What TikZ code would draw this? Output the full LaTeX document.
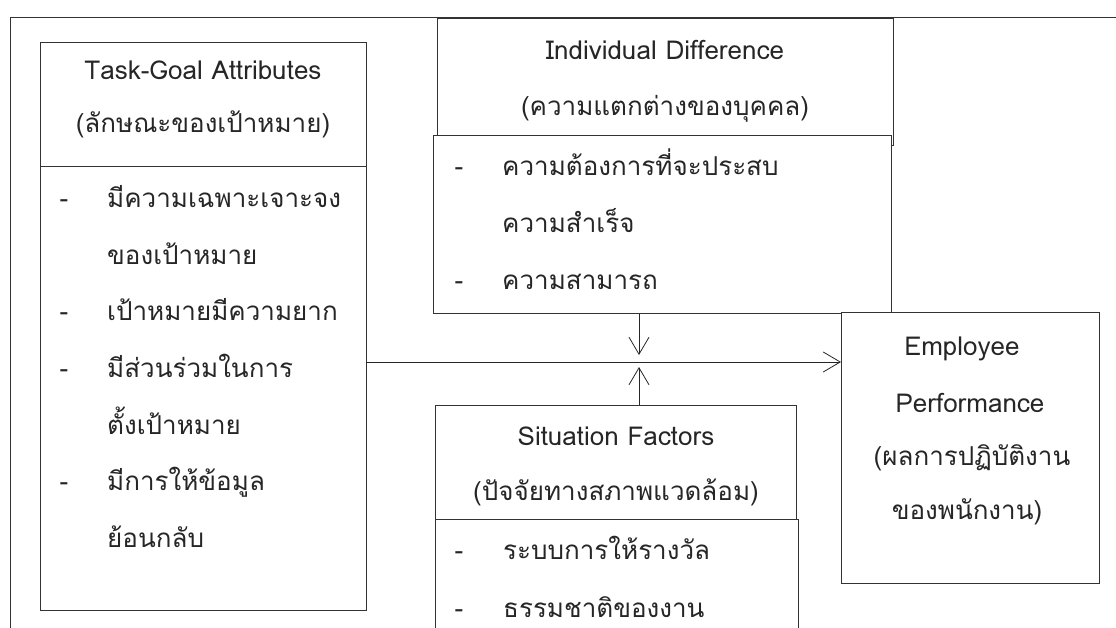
\documentclass[tikz,border=0pt]{standalone}
\usepackage{fontspec}
\setmainfont[Script=Thai]{Loma}
\usetikzlibrary{arrows.meta}
\begin{document}
\begin{tikzpicture}[x=1pt,y=-1pt,
  box/.style={draw=black!80, line width=0.8pt, fill=white, inner sep=0pt, anchor=north west},
  txt/.style={inner sep=0pt, font=\fontsize{26}{30}\selectfont, text=black!85},
  li/.style={txt, anchor=mid west},
  ctr/.style={txt, anchor=mid},
  arr/.style={draw=black!85, line width=0.8pt, -{Straight Barb[length=17pt,width=20pt,line width=0.8pt]}}]
\useasboundingbox (0,0) rectangle (1116,628);
\clip (0,0) rectangle (1116,628);
% outer frame
\coordinate (fa) at (1120,17);
\coordinate (fb) at (10,17);
\coordinate (fc) at (10,640);
\draw[draw=black!80, line width=0.8pt] (fa) -- (fb) -- (fc);
% Task-Goal box
\node[box, minimum width=326pt, minimum height=568pt] (task) at (40,42) {};
\coordinate (tdiv) at (40,166);
\draw[draw=black!80, line width=0.8pt] (tdiv) -- (tdiv -| task.east);
\node[ctr] (t1) at (203,77) {Task-Goal Attributes};
\node[ctr] (t2) at (203,130) {(ลักษณะของเป้าหมาย)};
\node[ctr] (td1) at (64,205) {-};
\node[li] (tl1) at (107,205) {มีความเฉพาะเจาะจง};
\node[li] (tl2) at (107,262) {ของเป้าหมาย};
\node[ctr] (td2) at (64,318) {-};
\node[li] (tl3) at (107,318) {เป้าหมายมีความยาก};
\node[ctr] (td3) at (64,375) {-};
\node[li] (tl4) at (107,375) {มีส่วนร่วมในการ};
\node[li] (tl5) at (107,432) {ตั้งเป้าหมาย};
\node[ctr] (td4) at (64,488) {-};
\node[li] (tl6) at (107,488) {มีการให้ข้อมูล};
\node[li] (tl7) at (107,545) {ย้อนกลับ};
% Individual Difference
\node[box, minimum width=456pt, minimum height=127pt] (idh) at (437,18) {};
\node[ctr] (i1) at (665,57) {Individual Difference};
\node[ctr] (i2) at (665,113) {(ความแตกต่างของบุคคล)};
\node[box, minimum width=458pt, minimum height=178pt] (idc) at (433,135) {};
\node[ctr] (id1) at (459,173) {-};
\node[li] (il1) at (502,173) {ความต้องการที่จะประสบ};
\node[li] (il2) at (502,230) {ความสำเร็จ};
\node[ctr] (id2) at (459,287) {-};
\node[li] (il3) at (502,287) {ความสามารถ};
% Situation Factors
\node[box, minimum width=361pt, minimum height=114pt] (sith) at (435,405) {};
\node[ctr] (s1) at (616,443) {Situation Factors};
\node[ctr] (s2) at (616,498) {(ปัจจัยทางสภาพแวดล้อม)};
\node[box, minimum width=363pt, minimum height=200pt] (sitc) at (435,519) {};
\node[ctr] (sd1) at (459,557) {-};
\node[li] (sl1) at (503,557) {ระบบการให้รางวัล};
\node[ctr] (sd2) at (459,615) {-};
\node[li] (sl2) at (503,615) {ธรรมชาติของงาน};
% Employee Performance
\node[box, minimum width=258pt, minimum height=271pt] (emp) at (841,312) {};
\node[ctr] (e1) at (962,353) {Employee};
\node[ctr] (e2) at (970,410) {Performance};
\node[ctr] (e3) at (972,463) {(ผลการปฏิบัติงาน};
\node[ctr] (e4) at (967,517) {ของพนักงาน)};
% connectors
\coordinate (jd) at (639,355);
\coordinate (ju) at (639,367);
\coordinate (jh) at (366,362);
\draw[arr] (jh) -- (jh -| emp.west);
\draw[arr] (idc.south -| jd) -- (jd);
\draw[arr] (sith.north -| ju) -- (ju);
\end{tikzpicture}
\end{document}
